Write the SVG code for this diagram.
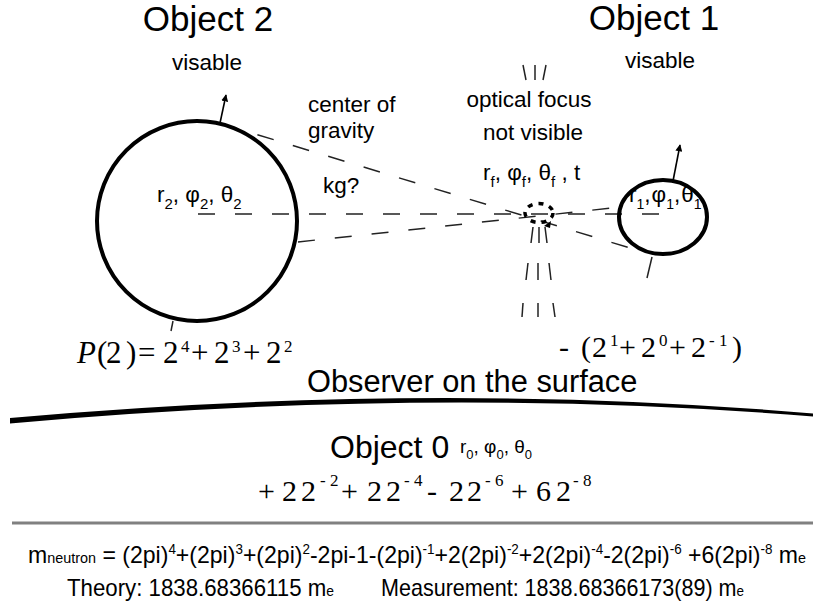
<svg xmlns="http://www.w3.org/2000/svg" width="813" height="612" viewBox="0 0 813 612">
<style>
.sans{font-family:"Liberation Sans",Arial,sans-serif;fill:#000}
.serif{font-family:"Liberation Serif","Times New Roman",serif;fill:#000}
.title{font-size:35px}
.lbl{font-size:22.5px}
.body{fill:none;stroke:#000;stroke-width:4}
.dash{fill:none;stroke:#222;stroke-width:1.4;stroke-dasharray:17 20}
.tick{fill:none;stroke:#222;stroke-width:1.5}
.arr{fill:none;stroke:#000;stroke-width:1.6}
</style>
<defs>
<marker id="ah" viewBox="0 0 10 10" refX="9" refY="5" markerWidth="7" markerHeight="7" orient="auto" markerUnits="userSpaceOnUse">
<path d="M0 0 L10 5 L0 10 z" fill="#000"/>
</marker>
</defs>
<rect width="813" height="612" fill="#fff"/>

<g id="connectors">
<line class="dash" x1="222" y1="124" x2="630" y2="248"/>
<line class="dash" x1="198" y1="214" x2="662" y2="214"/>
<line class="dash" x1="298" y1="242" x2="621" y2="207"/>
<line class="arr" x1="220" y1="123" x2="226" y2="95" marker-end="url(#ah)"/>
<line class="arr" x1="673" y1="181" x2="680" y2="145" marker-end="url(#ah)"/>
<line class="tick" x1="173" y1="321" x2="171" y2="331"/>
<line class="tick" x1="652" y1="257" x2="647" y2="278"/>
</g>

<g id="object2">
<text class="sans title" x="208" y="31" text-anchor="middle">Object 2</text>
<text class="sans lbl" x="207" y="70" text-anchor="middle">visable</text>
<circle class="body" cx="197" cy="221" r="100"/>
<text class="sans lbl" x="157" y="202">r<tspan font-size="15" dy="7">2</tspan><tspan dy="-7">, φ</tspan><tspan font-size="15" dy="7">2</tspan><tspan dy="-7">, θ</tspan><tspan font-size="15" dy="7">2</tspan></text>
<text class="serif" x="77" y="363" font-size="31"><tspan font-style="italic">P</tspan><tspan x="97">(</tspan><tspan x="106">2</tspan><tspan x="126">)</tspan><tspan x="138">=</tspan><tspan x="163">2</tspan><tspan x="181" y="352" font-size="17">4</tspan><tspan x="191" y="363">+</tspan><tspan x="214">2</tspan><tspan x="232" y="352" font-size="17">3</tspan><tspan x="243" y="363">+</tspan><tspan x="266">2</tspan><tspan x="284" y="352" font-size="17">2</tspan></text>
</g>

<g id="gravity">
<text class="sans lbl" x="308" y="112">center of</text>
<text class="sans lbl" x="308" y="138">gravity</text>
<text class="sans lbl" x="323" y="193">kg?</text>
</g>

<g id="focus">
<line class="tick" x1="523" y1="65" x2="526" y2="80"/>
<line class="tick" x1="535" y1="65" x2="535" y2="80"/>
<line class="tick" x1="546" y1="65" x2="543" y2="80"/>
<text class="sans lbl" x="529" y="107" text-anchor="middle">optical focus</text>
<text class="sans lbl" x="533" y="140" text-anchor="middle">not visible</text>
<text class="sans lbl" x="483" y="180">r<tspan font-size="15" dy="7">f</tspan><tspan dy="-7">, φ</tspan><tspan font-size="15" dy="7">f</tspan><tspan dy="-7">, θ</tspan><tspan font-size="15" dy="7">f</tspan><tspan dy="-7"> , t</tspan></text>
<ellipse cx="539" cy="213" rx="14" ry="9.5" fill="none" stroke="#000" stroke-width="3.5" stroke-dasharray="5 6"/>
<line class="tick" x1="533" y1="227" x2="531" y2="243"/>
<line class="tick" x1="539" y1="227" x2="539" y2="243"/>
<line class="tick" x1="545" y1="227" x2="547" y2="243"/>
<path d="M544 226 L551 221 L550 228 z" fill="#000"/>
<line class="tick" x1="528" y1="263" x2="526" y2="280"/>
<line class="tick" x1="538" y1="263" x2="538" y2="280"/>
<line class="tick" x1="549" y1="263" x2="551" y2="280"/>
<line class="tick" x1="523" y1="303" x2="522" y2="317"/>
<line class="tick" x1="538" y1="303" x2="538" y2="317"/>
<line class="tick" x1="553" y1="303" x2="555" y2="317"/>
</g>

<g id="object1">
<text class="sans title" x="654" y="30" text-anchor="middle">Object 1</text>
<text class="sans lbl" x="660" y="68" text-anchor="middle">visable</text>
<ellipse class="body" cx="663" cy="217" rx="44" ry="37"/>
<text class="sans lbl" x="629" y="202" font-size="22">r<tspan font-size="14" dy="7">1</tspan><tspan dy="-7">,</tspan><tspan dx="1">φ</tspan><tspan font-size="14" dy="7">1</tspan><tspan dy="-7">,</tspan><tspan dx="1">θ</tspan><tspan font-size="14" dy="7">1</tspan></text>
<text class="serif" x="559" y="357" font-size="30"><tspan>-</tspan><tspan x="581">(</tspan><tspan x="592">2</tspan><tspan x="610" y="346" font-size="17">1</tspan><tspan x="619" y="357">+</tspan><tspan x="641">2</tspan><tspan x="659" y="346" font-size="17">0</tspan><tspan x="669" y="357">+</tspan><tspan x="691">2</tspan><tspan x="709" y="346" font-size="17">- 1</tspan><tspan x="732" y="357">)</tspan></text>
</g>

<g id="observer">
<text class="sans" x="307" y="392" font-size="30.8">Observer on the surface</text>
<path d="M10 418 Q 430 380.5 813 413.5 L 813 416.5 Q 430 385.5 10 423.5 Z" fill="#000"/>
</g>

<g id="object0">
<text class="sans" x="330" y="458" font-size="32">Object 0</text>
<text class="sans" x="460" y="453" font-size="19">r<tspan font-size="13" dy="6">0</tspan><tspan dy="-6">, φ</tspan><tspan font-size="13" dy="6">0</tspan><tspan dy="-6">, θ</tspan><tspan font-size="13" dy="6">0</tspan></text>
<text class="serif" x="258" y="501" font-size="30"><tspan>+</tspan><tspan x="282">2</tspan><tspan x="301">2</tspan><tspan x="320" y="486" font-size="17">- 2</tspan><tspan x="341" y="501">+</tspan><tspan x="367">2</tspan><tspan x="386">2</tspan><tspan x="404" y="486" font-size="17">- 4</tspan><tspan x="427" y="501">-</tspan><tspan x="449">2</tspan><tspan x="467">2</tspan><tspan x="485" y="486" font-size="17">- 6</tspan><tspan x="511" y="501">+</tspan><tspan x="536">6</tspan><tspan x="556">2</tspan><tspan x="573" y="486" font-size="17">- 8</tspan></text>
</g>

<line x1="12" y1="523" x2="813" y2="523" stroke="#808080" stroke-width="3"/>

<g id="neutron">
<text class="sans" x="28" y="563" font-size="24" textLength="778" lengthAdjust="spacingAndGlyphs">m<tspan font-size="15">neutron</tspan> = (2pi)<tspan font-size="14" dy="-9">4</tspan><tspan dy="9">+(2pi)</tspan><tspan font-size="14" dy="-9">3</tspan><tspan dy="9">+(2pi)</tspan><tspan font-size="14" dy="-9">2</tspan><tspan dy="9">-2pi-1-(2pi)</tspan><tspan font-size="14" dy="-9">-1</tspan><tspan dy="9">+2(2pi)</tspan><tspan font-size="14" dy="-9">-2</tspan><tspan dy="9">+2(2pi)</tspan><tspan font-size="14" dy="-9">-4</tspan><tspan dy="9">-2(2pi)</tspan><tspan font-size="14" dy="-9">-6</tspan><tspan dy="9"> +6(2pi)</tspan><tspan font-size="14" dy="-9">-8</tspan><tspan dy="9"> m</tspan><tspan font-size="15">e</tspan></text>
<text class="sans" x="67" y="596" font-size="24" textLength="267" lengthAdjust="spacingAndGlyphs">Theory:  1838.68366115 m<tspan font-size="15">e</tspan></text>
<text class="sans" x="381" y="596" font-size="24" textLength="363" lengthAdjust="spacingAndGlyphs">Measurement: 1838.68366173(89) m<tspan font-size="15">e</tspan></text>
</g>
</svg>
